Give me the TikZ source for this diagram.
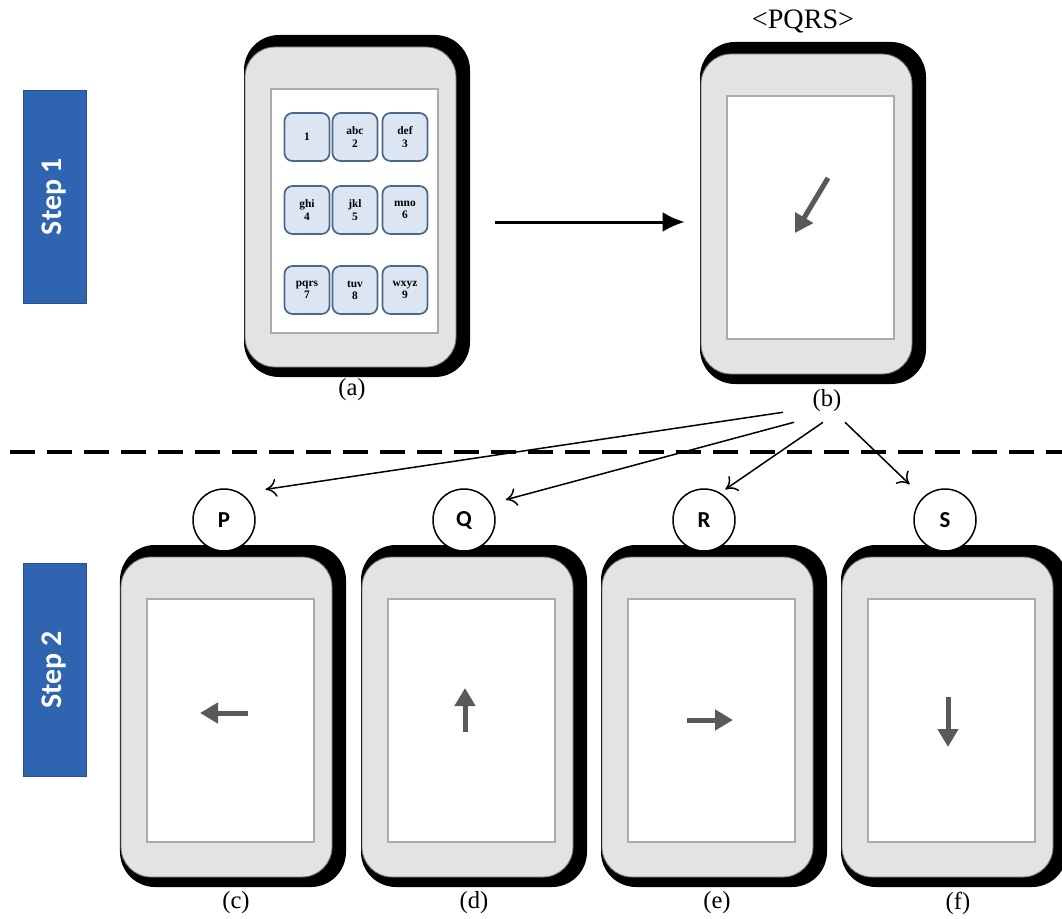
\documentclass[tikz,border=0pt]{standalone}
\usepackage{fontspec}
\setmainfont{Liberation Serif}
\newfontfamily\calibri{Carlito}
\usetikzlibrary{arrows.meta}
\definecolor{stepblue}{RGB}{47,101,176}
\definecolor{keyblue}{RGB}{220,230,242}
\definecolor{keyedge}{RGB}{74,104,140}

\begin{document}
\begin{tikzpicture}[x=0.2mm,y=-0.2mm]

\tikzset{casebox/.style = {rectangle, fill=black, rounded corners=7mm, minimum width=45.2mm, minimum height=68.4mm, inner sep=0}}
\tikzset{bodybox/.style = {rectangle, fill=black!11, draw=black!55, line width=0.5pt, rounded corners=6mm, minimum width=42.2mm, minimum height=64mm, inner sep=0}}
\tikzset{screenbox/.style = {rectangle, fill=white, draw=black!33, line width=0.4mm, minimum width=33.4mm, minimum height=48.6mm, inner sep=0}}
\tikzset{keybox/.style = {rectangle, rounded corners=1.6mm, fill=keyblue, draw=keyedge, line width=0.35mm, minimum width=9mm, minimum height=9.6mm, inner sep=0, align=center, font=\fontsize{6.5}{7}\selectfont\bfseries}}
\tikzset{stepbox/.style = {rectangle, fill=stepblue, draw=stepblue!80!black, minimum width=42.6mm, minimum height=12.6mm, rotate=90, text=white, font=\calibri\bfseries\fontsize{17}{20}\selectfont}}
\tikzset{letter/.style = {circle, draw, fill=white, line width=0.3mm, minimum size=12.4mm, inner sep=0, font=\calibri\bfseries\fontsize{13}{15}\selectfont}}
\tikzset{caption/.style = {inner sep=1pt, font=\fontsize{14}{16}\selectfont}}
\tikzset{swipe/.style = {draw=black!65, line width=1mm, -{Triangle[length=3.6mm,width=4mm]}}}
\tikzset{link/.style = {-{To[length=2.2mm,width=3.6mm]}, line width=0.3mm}}
\tikzset{bigarrow/.style = {line width=0.6mm, -{Latex[length=4.4mm,width=4mm]}}}

\useasboundingbox (0,0) rectangle (1062,919);

%steps
\node[stepbox] (s1) at (54.5,196.5) {Step 1};
\node[stepbox] (s2) at (54.5,670) {Step 2};

%phone a with keypad
\node[casebox] (ca) at (357,206) {};
\node[bodybox] (ba) at (350.5,207) {};
\node[screenbox] (sa) at (354.5,211) {};
\node[keybox] (k1) at (307,137) {1};
\node[keybox] (k2) at (355,137) {abc\\2};
\node[keybox] (k3) at (405,137) {def\\3};
\node[keybox] (k4) at (307,210) {ghi\\4};
\node[keybox] (k5) at (355,210) {jkl\\5};
\node[keybox] (k6) at (405,210) {mno\\6};
\node[keybox] (k7) at (307,290) {pqrs\\7};
\node[keybox] (k8) at (355,290) {tuv\\8};
\node[keybox] (k9) at (405,290) {wxyz\\9};
\node[caption] (la) at (352,390) {(a)};

%phone b
\node[casebox] (cb) at (813,213) {};
\node[bodybox] (bb) at (806.5,214) {};
\node[screenbox] (sb) at (810.5,217.5) {};
\draw[swipe] (828,178) -- (795,233);
\node[font=\fontsize{16}{18}\selectfont] (word) at (803,21) {<PQRS>};
\node[caption] (lb) at (827,401) {(b)};

\draw[bigarrow] ([shift={(25,16)}]ca.east) -- ([shift={(-15,9)}]cb.west);

%divider
\draw[line width=0.8mm, dash pattern=on 5mm off 2.4mm] (10,452) -- (1062,452);

%phones c to f
\node[casebox] (cc) at (233,716) {};
\node[bodybox] (bc) at (226.5,717) {};
\node[screenbox] (sc) at (230.5,720.5) {};
\node[casebox] (cd) at (474,716) {};
\node[bodybox] (bd) at (467.5,717) {};
\node[screenbox] (sd) at (471.5,720.5) {};
\node[casebox] (ce) at (714,716) {};
\node[bodybox] (be) at (707.5,717) {};
\node[screenbox] (se) at (711.5,720.5) {};
\node[casebox] (cf) at (954,716) {};
\node[bodybox] (bf) at (947.5,717) {};
\node[screenbox] (sf) at (951.5,720.5) {};
\draw[swipe] (248,713) -- (200,713);
\draw[swipe] (465,732) -- (465,688);
\draw[swipe] (687,720) -- (733,720);
\draw[swipe] (948,697) -- (948,747);
\node[caption] (lc) at (236,903) {(c)};
\node[caption] (ld) at (474,903) {(d)};
\node[caption] (le) at (717,903) {(e)};
\node[caption] (lf) at (958,903) {(f)};

%letters
\node[letter] (P) at (224,520) {P};
\node[letter] (Q) at (464,520) {Q};
\node[letter] (R) at (704,520) {R};
\node[letter] (S) at (945,520) {S};

%links
\draw[link, shorten >=5mm] ([shift={(-44,-2)}]lb.south) -- (P.58);
\draw[link, shorten >=3mm] ([shift={(-33,8)}]lb.south) -- (Q.31);
\draw[link, shorten >=1.2mm] ([shift={(-4,8)}]lb.south) -- (R.59);
\draw[link, shorten >=3.7mm] ([shift={(18,8)}]lb.south) -- (S.134);

\end{tikzpicture}
\end{document}
